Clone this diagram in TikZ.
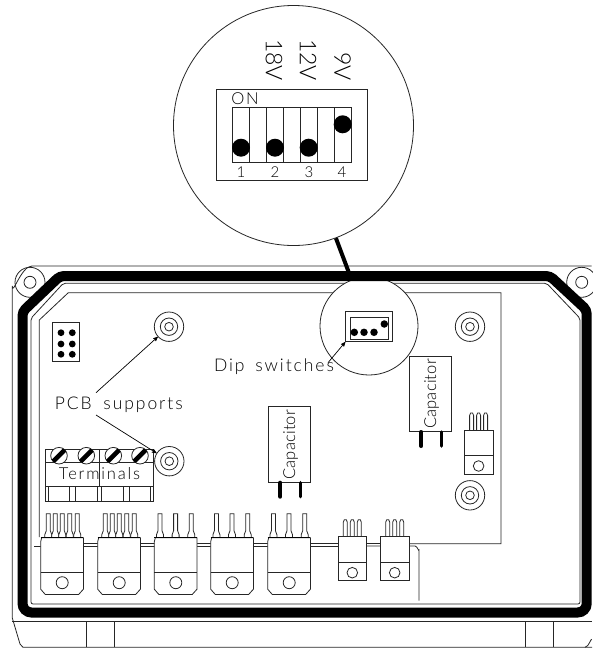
\documentclass[tikz,border=0pt]{standalone}
\usepackage{fontspec}
\setmainfont{Lato}[UprightFont=* Light,LetterSpace=11]
\usetikzlibrary{arrows,positioning,calc}
% one large regulator: top left corner is at the scope origin
\newcommand{\regbody}{
\draw[thin line,fill=white] (0,4) -- (1,0) -- (42.7,0) -- (42.7,51.5) -- (38,56.7) -- (4.5,56.7) -- (0,51.5) -- cycle;
\draw[thin line] (0,34.6) -- (42.7,34.6);
\draw[thin line] (21.5,45) circle (6);
\draw[line width=1.5pt] (0,0) -- (42.7,0);
}
% one pin of a large regulator
\newcommand{\regpin}[1]{
\draw[thin line,fill=white] (#1-3.5,0) -- (#1-3.5,-3) -- (#1-2,-7) -- (#1-2,-24) -- (#1+2,-24) -- (#1+2,-7) -- (#1+3.5,-3) -- (#1+3.5,0);
}
% one small regulator
\newcommand{\smallreg}{
\draw[thin line,fill=white] (0,0) rectangle (28.5,44);
\draw[thin line] (0,25.6) -- (28.5,25.6);
\draw[thin line] (14,36) circle (5.3);
\draw[thin line] (5,0) -- (5,-14.5) -- (6,-17) -- (8,-17) -- (9,-14.5) -- (9,0);
\draw[thin line] (12,0) -- (12,-14.5) -- (13,-17) -- (15,-17) -- (16,-14.5) -- (16,0);
\draw[thin line] (19,0) -- (19,-14.5) -- (20,-17) -- (22,-17) -- (23,-14.5) -- (23,0);
}
% one terminal screw
\newcommand{\screw}[2]{
\begin{scope}
\draw[thin line,fill=white] (#1,#2) circle (8.3);
\clip (#1,#2) circle (8.3);
\draw[line width=4.6pt] (#1-7,#2+7) -- (#1+7,#2-7);
\end{scope}
}
% one capacitor
\newcommand{\capbody}{
\draw[thin line,fill=white] (0,0) rectangle (42,75.5);
\draw[line width=4pt,line cap=round] (12,76) -- (12,90);
\draw[line width=3.5pt,line cap=round] (32,76) -- (32,90);
\node[rotate=90,captxt] at (22.3,38) {Capacitor};
}
\begin{document}
\begin{tikzpicture}
[x=1pt,y=-1pt,
thin line/.style={line width=.8pt,draw=black!85},
txt/.style={inner sep=0pt,font=\fontsize{16.5}{18}\selectfont},
labeltxt/.style={inner sep=0pt,font=\fontsize{17.5}{18}\selectfont},
captxt/.style={inner sep=0pt,font=\fontsize{16.5}{18}\selectfont\addfontfeatures{LetterSpace=1}},
bigtxt/.style={inner sep=0pt,font=\fontsize{23}{24}\selectfont\addfontfeatures{LetterSpace=0}},
numtxt/.style={inner sep=0pt,font=\fontsize{15}{16}\selectfont},
support/.style={draw,circle,thin line,inner sep=0pt,minimum size=29.4pt},
dot/.style={circle,fill=black,inner sep=0pt},
lead/.style={line width=.7pt,>=stealth',->}]
\useasboundingbox (0,0) rectangle (592,648);
%% Housing
% outer edge
\draw[thin line] (12.3,618) -- (12.3,286) to[out=-90,in=180] (32,266) -- (570,266) -- (591.7,266);
\draw[thin line] (12.3,618) -- (20,644) -- (23,647.3) -- (592,647.3);
\draw[thin line] (12.3,621.7) -- (592,621.7);
\draw[thin line] (591.7,640) to[out=90,in=0] (585,647.3);
\draw[thin line] (86,621.7) -- (86,647.3);
\draw[thin line] (114.3,621.7) -- (114.3,647.3);
\draw[thin line] (525,621.7) -- (525,647.3);
\draw[thin line] (553.3,621.7) -- (553.3,647.3);
% corner screws
\draw[thin line] (30,282.3) circle (15);
\draw[thin line] (30,282.3) circle (6);
\draw[thin line] (581.7,282.3) circle (15);
\draw[thin line] (581.7,282.3) circle (6);
% seal lines
\draw[thin line,rounded corners=2pt] (31,318.3) -- (63.3,283.3) -- (546.7,283.3) -- (580,318.3) -- (580,604) -- (31,604) -- cycle;
%% Board
\draw[thin line] (39.3,537) -- (39.3,320) -- (68.3,292.7) -- (501,292.7) -- (501,543.7) -- (409,543.7);
\draw[thin line] (41,543.7) -- (339,543.7);
\draw[thin line] (34,546) -- (339,546);
\draw[thin line] (366,546) -- (415,546) to[out=0,in=-90] (419,550) -- (419,600.7);
\draw[thin line] (366,543.7) -- (381,543.7);
%% Supports
\node[support] (sup1) at (169,326.7) {};
\draw[thin line] (169,326.7) circle (8.7);
\draw[thin line] (169,326.7) circle (4.3);
\node[support] (sup2) at (169.3,461.2) {};
\draw[thin line] (169.3,461.2) circle (8.7);
\draw[thin line] (169.3,461.2) circle (4.3);
\node[support] (sup3) at (470,326.7) {};
\draw[thin line] (470,326.7) circle (8.7);
\draw[thin line] (470,326.7) circle (4.3);
\node[support] (sup4) at (470,495.3) {};
\draw[thin line] (470,495.3) circle (8.7);
\draw[thin line] (470,495.3) circle (4.3);
%% Header
\node[draw,thin line,minimum width=26.6pt,minimum height=38.7pt,inner sep=0pt] (header) at (66,341.6) {};
\node[dot,minimum size=6.8pt] (h1) at (61,332.7) {};
\node[dot,minimum size=6.8pt] (h2) at (72.3,332.7) {};
\node[dot,minimum size=6.8pt] (h3) at (61,344) {};
\node[dot,minimum size=6.8pt] (h4) at (72.3,344) {};
\node[dot,minimum size=6.8pt] (h5) at (61,354.3) {};
\node[dot,minimum size=6.8pt] (h6) at (72.3,354.3) {};
%% Terminals
\draw[thin line] (45.3,449) rectangle (153.3,501.3);
\draw[thin line] (45.3,462.3) -- (153.3,462.3);
\draw[thin line] (45.3,486) -- (153.3,486);
\draw[thin line] (99.3,449) -- (99.3,486);
\draw[thin line] (48.3,486) -- (48.3,501.3);
\draw[thin line] (69.3,486) -- (69.3,501.3);
\draw[thin line] (75,486) -- (75,501.3);
\draw[thin line] (97.7,486) -- (97.7,501.3);
\draw[thin line] (101.3,486) -- (101.3,501.3);
\draw[thin line] (123.3,486) -- (123.3,501.3);
\draw[thin line] (129,486) -- (129,501.3);
\draw[thin line] (150.7,486) -- (150.7,501.3);
\screw{59}{455.7}
\screw{86.3}{455.7}
\screw{113.3}{455.7}
\screw{140}{455.7}
\node[txt] (terminals) at (99.5,473.3) {Terminals};
%% Regulators
\begin{scope}[xshift=40.7pt,yshift=-537.7pt]
\regpin{7.6}\regpin{14.6}\regpin{21.6}\regpin{29}\regpin{36.6}
\regbody
\end{scope}
\begin{scope}[xshift=97.7pt,yshift=-537.7pt]
\regpin{7.6}\regpin{14.6}\regpin{21.6}\regpin{29}\regpin{36.6}
\regbody
\end{scope}
\begin{scope}[xshift=154.3pt,yshift=-537.7pt]
\regpin{5.7}\regpin{21.3}\regpin{37}
\regbody
\end{scope}
\begin{scope}[xshift=210.7pt,yshift=-537.7pt]
\regpin{5.7}\regpin{21.3}\regpin{37}
\regbody
\end{scope}
\begin{scope}[xshift=267.7pt,yshift=-537.7pt]
\regpin{5.7}\regpin{21.3}\regpin{37}
\regbody
\end{scope}
\begin{scope}[xshift=338.3pt,yshift=-536.7pt]
\smallreg
\end{scope}
\begin{scope}[xshift=380.7pt,yshift=-536.7pt]
\smallreg
\end{scope}
\begin{scope}[xshift=464.6pt,yshift=-430pt]
\smallreg
\end{scope}
%% Capacitors
\begin{scope}[xshift=409.3pt,yshift=-356pt]
\capbody
\end{scope}
\begin{scope}[xshift=268.3pt,yshift=-406.7pt]
\capbody
\end{scope}
%% Dip switch on board
\node[draw,circle,fill=white,thin line,minimum size=98pt,inner sep=0pt] (dipsmall) at (369,326) {};
\node[draw,thin line,minimum width=47pt,minimum height=30.7pt,inner sep=0pt] (dipbox) at (369.2,326.3) {};
\draw[thin line] (350.3,317.3) rectangle (388.7,339);
\node[dot,minimum size=7.5pt] (d1) at (354.3,332.3) {};
\node[dot,minimum size=7.5pt] (d2) at (364,332.3) {};
\node[dot,minimum size=7.5pt] (d3) at (374,332.3) {};
\node[dot,minimum size=7.5pt] (d4) at (384.3,324) {};
% thick sealing ring
\draw[line width=10pt,rounded corners=4pt] (60,276) -- (550,276) -- (586.7,310) [rounded corners=9pt] -- (586.7,612.5) -- (22.5,612.5) [rounded corners=4pt] -- (22.5,311.7) -- cycle;
%% Large view of the dip switch
\node[draw,circle,fill=white,thin line,minimum size=240pt,inner sep=0pt] (dipbig) at (293.5,125.5) {};
\draw[line width=4pt] (dipbig) -- (dipsmall);
\node[draw,thin line,minimum width=150.3pt,minimum height=91.7pt,inner sep=0pt] (dipframe) at (291.8,134.9) {};
\draw[thin line] (232.3,107.3) rectangle (351.7,162.3);
\draw[thin line] (249.3,107.3) -- (249.3,162.3);
\draw[thin line] (266.7,107.3) -- (266.7,162.3);
\draw[thin line] (283.7,107.3) -- (283.7,162.3);
\draw[thin line] (300.7,107.3) -- (300.7,162.3);
\draw[thin line] (317.7,107.3) -- (317.7,162.3);
\draw[thin line] (334.3,107.3) -- (334.3,162.3);
\node[dot,minimum size=18pt] (s1) at (241,147.7) {};
\node[dot,minimum size=18pt] (s2) at (275,147.7) {};
\node[dot,minimum size=18pt] (s3) at (308.7,147.7) {};
\node[dot,minimum size=18pt] (s4) at (342.7,124.3) {};
\node[txt] (on) at (245,99) {ON};
\node[numtxt] (n1) at (241,172) {1};
\node[numtxt] (n2) at (275,172) {2};
\node[numtxt] (n3) at (309,172) {3};
\node[numtxt] (n4) at (342,172) {4};
\node[bigtxt,rotate=-90,anchor=east] (v18) at (274,81) {18V};
\node[bigtxt,rotate=-90,anchor=east] (v12) at (308,81) {12V};
\node[bigtxt,rotate=-90,anchor=east] (v9) at (342.7,81) {9V};
%% Labels
\node[labeltxt] (pcb) at (118.8,405) {PCB\hspace*{5pt} supports};
\node[labeltxt] (dip) at (274,366.7) {Dip\hspace*{4pt} switches};
\coordinate (pcbup) at (96,392.7);
\coordinate (pcbdown) at (96,415);
\coordinate (dipfoot) at (328,362.7);
\draw[lead] (pcbup) -- (sup1);
\draw[lead] (pcbdown) -- (sup2);
\draw[lead] (dipfoot) -- (dipbox.south west);
\end{tikzpicture}
\end{document}
